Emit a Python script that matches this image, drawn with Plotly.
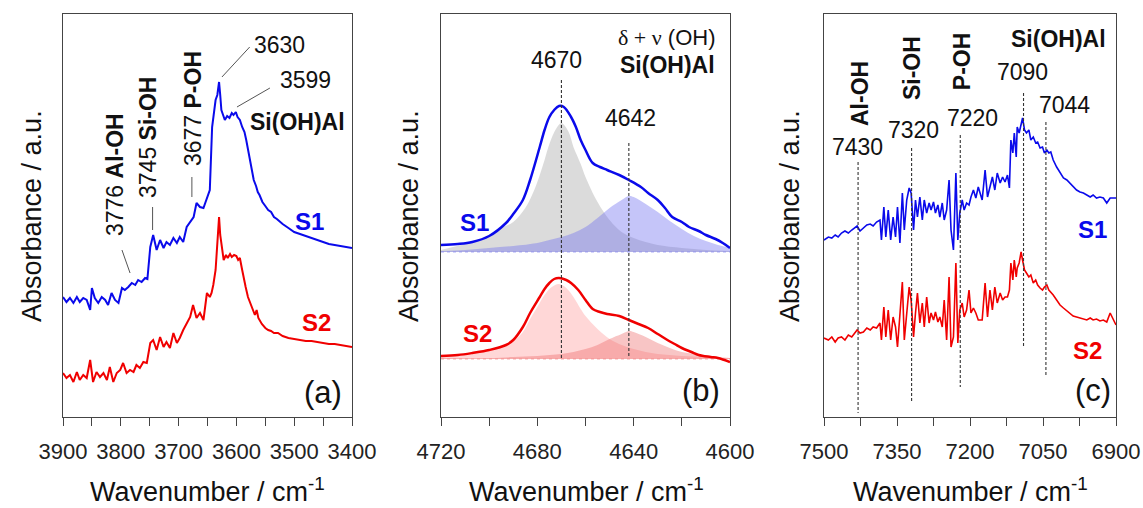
import plotly.graph_objects as go

# ---------------- (a) OH stretching region ----------------
a_wn_s1 = [3900, 3894, 3888, 3882, 3876, 3871, 3865, 3859, 3853, 3850, 3845, 3839, 3833, 3827, 3822,
           3816, 3810, 3804, 3798, 3793, 3787, 3781, 3775, 3770, 3764, 3758, 3754, 3749, 3744, 3738,
           3732, 3726, 3721, 3715, 3709, 3703, 3698, 3692, 3686, 3680, 3674, 3669, 3663, 3657, 3651,
           3646, 3642, 3636, 3633, 3630, 3628, 3626, 3620, 3616, 3612, 3608, 3605, 3601, 3598, 3594,
           3590, 3586, 3583, 3580, 3577, 3573, 3570, 3566, 3563, 3560, 3555, 3550, 3545, 3540, 3535,
           3530, 3525, 3520, 3510, 3500, 3490, 3480, 3470, 3460, 3450, 3440, 3430, 3420, 3410, 3400]
a_s1 = [1.20, 1.15, 1.19, 1.14, 1.20, 1.15, 1.19, 1.17, 1.07, 1.29, 1.19, 1.14, 1.20, 1.17, 1.12,
        1.24, 1.17, 1.14, 1.29, 1.27, 1.30, 1.34, 1.32, 1.37, 1.35, 1.39, 1.38, 1.70, 1.82, 1.67,
        1.77, 1.69, 1.75, 1.72, 1.79, 1.74, 1.80, 1.75, 1.90, 1.95, 2.00, 2.14, 2.10, 2.09, 2.19,
        2.27, 2.90, 3.17, 3.22, 3.35, 3.22, 3.07, 2.97, 3.01, 2.99, 3.04, 3.02, 3.05, 3.00, 2.97,
        2.90, 2.85, 2.77, 2.67, 2.57, 2.47, 2.37, 2.31, 2.25, 2.22, 2.15, 2.11, 2.07, 2.05, 2.00,
        1.98, 1.95, 1.93, 1.89, 1.85, 1.83, 1.81, 1.79, 1.77, 1.75, 1.73, 1.72, 1.71, 1.70, 1.69]

a_wn_s2 = [3900, 3894, 3888, 3882, 3876, 3871, 3865, 3859, 3853, 3848, 3842, 3836, 3830, 3824, 3819,
           3813, 3807, 3801, 3796, 3790, 3784, 3778, 3773, 3767, 3761, 3755, 3749, 3744, 3738, 3732,
           3726, 3721, 3715, 3709, 3703, 3698, 3692, 3686, 3680, 3675, 3669, 3663, 3657, 3651, 3646,
           3643, 3640, 3636, 3633, 3630, 3628, 3625, 3622, 3618, 3615, 3611, 3608, 3604, 3600, 3597,
           3594, 3590, 3587, 3584, 3580, 3576, 3572, 3568, 3565, 3562, 3556, 3550, 3545, 3540, 3535,
           3528, 3520, 3510, 3500, 3490, 3480, 3470, 3460, 3450, 3440, 3430, 3420, 3410, 3400]
a_s2 = [0.44, 0.39, 0.42, 0.35, 0.45, 0.37, 0.42, 0.39, 0.57, 0.35, 0.45, 0.40, 0.44, 0.37, 0.50,
        0.35, 0.44, 0.47, 0.54, 0.44, 0.47, 0.45, 0.52, 0.49, 0.55, 0.54, 0.74, 0.77, 0.67, 0.80,
        0.70, 0.75, 0.69, 0.84, 0.74, 0.79, 0.87, 0.94, 1.00, 1.12, 0.99, 1.04, 0.97, 1.24, 1.20,
        1.24, 1.32, 1.47, 1.77, 2.00, 1.82, 1.67, 1.57, 1.62, 1.59, 1.63, 1.60, 1.62, 1.61, 1.57,
        1.59, 1.47, 1.37, 1.30, 1.20, 1.14, 1.09, 1.02, 1.07, 0.99, 0.93, 0.89, 0.87, 0.86, 0.84,
        0.84, 0.81, 0.79, 0.78, 0.77, 0.76, 0.76, 0.75, 0.74, 0.73, 0.73, 0.72, 0.71, 0.70]

# ---------------- (b) combination band delta + nu(OH) ----------------
b_wn_s1 = [4720, 4713, 4707, 4700, 4693, 4690, 4686, 4683, 4679, 4677, 4675, 4673, 4671, 4669, 4666,
           4664, 4662, 4660, 4657, 4654, 4651, 4646, 4642, 4637, 4634, 4630, 4627, 4624, 4620, 4617,
           4613, 4610, 4606, 4603, 4600]
b_s1 = [1.72, 1.73, 1.75, 1.81, 1.94, 2.03, 2.17, 2.37, 2.70, 2.87, 3.00, 3.07, 3.11, 3.10, 3.00,
        2.90, 2.77, 2.67, 2.54, 2.50, 2.47, 2.42, 2.37, 2.30, 2.24, 2.17, 2.09, 2.00, 1.95, 1.90,
        1.86, 1.82, 1.78, 1.74, 1.69]
b_base_s1 = 1.65
b_fit1_wn_s1 = [4720, 4715, 4710, 4705, 4700, 4695, 4690, 4685, 4682, 4680, 4677, 4675, 4672, 4670,
                4667, 4665, 4662, 4660, 4655, 4650, 4645, 4640, 4635, 4630, 4620, 4610, 4600]
b_fit1_s1 = [0.02, 0.05, 0.08, 0.12, 0.16, 0.24, 0.30, 0.44, 0.58, 0.70, 0.92, 1.08, 1.24, 1.29,
             1.20, 1.05, 0.88, 0.75, 0.50, 0.32, 0.20, 0.14, 0.10, 0.07, 0.04, 0.02, 0.01]
b_fit2_wn_s1 = [4720, 4710, 4700, 4690, 4680, 4675, 4670, 4665, 4660, 4655, 4650, 4645, 4642, 4640,
                4635, 4630, 4625, 4620, 4615, 4610, 4605, 4600]
b_fit2_s1 = [0.01, 0.02, 0.04, 0.06, 0.09, 0.12, 0.15, 0.19, 0.25, 0.34, 0.44, 0.52, 0.56, 0.55,
             0.48, 0.40, 0.31, 0.23, 0.16, 0.11, 0.07, 0.04]

b_wn_s2 = [4720, 4713, 4707, 4700, 4693, 4690, 4686, 4683, 4679, 4677, 4675, 4673, 4671, 4668, 4666,
           4663, 4660, 4657, 4654, 4651, 4646, 4642, 4638, 4634, 4630, 4626, 4623, 4620, 4616, 4613,
           4608, 4605, 4600]
b_s2 = [0.61, 0.62, 0.64, 0.67, 0.72, 0.77, 0.90, 1.04, 1.20, 1.28, 1.34, 1.38, 1.39, 1.37, 1.34,
        1.27, 1.17, 1.08, 1.05, 1.03, 1.01, 0.97, 0.93, 0.89, 0.83, 0.77, 0.73, 0.69, 0.65, 0.62,
        0.60, 0.59, 0.55]
b_base_s2 = 0.58
b_fit1_wn_s2 = [4720, 4710, 4700, 4695, 4690, 4686, 4683, 4680, 4677, 4674, 4671, 4668, 4665, 4662,
                4660, 4655, 4650, 4645, 4640, 4635, 4630, 4620, 4610, 4600]
b_fit1_s2 = [0.03, 0.05, 0.09, 0.13, 0.18, 0.27, 0.40, 0.52, 0.64, 0.72, 0.75, 0.71, 0.62, 0.50,
             0.43, 0.30, 0.20, 0.14, 0.10, 0.07, 0.05, 0.03, 0.02, 0.01]
b_fit2_wn_s2 = [4720, 4700, 4690, 4680, 4670, 4665, 4660, 4655, 4650, 4645, 4642, 4640, 4635, 4630,
                4625, 4620, 4615, 4610, 4600]
b_fit2_s2 = [0.01, 0.01, 0.02, 0.03, 0.05, 0.07, 0.10, 0.14, 0.20, 0.25, 0.28, 0.27, 0.22, 0.16,
             0.11, 0.07, 0.05, 0.03, 0.01]

# ---------------- (c) first overtone 2nu(OH) ----------------
c_wn = [7500, 7491, 7484, 7477, 7471, 7464, 7457, 7450, 7443, 7436, 7432, 7426, 7419, 7412, 7405,
        7399, 7392, 7385, 7382, 7377, 7373, 7368, 7363, 7358, 7353, 7349, 7344, 7339, 7335, 7330,
        7325, 7321, 7316, 7312, 7308, 7303, 7298, 7294, 7289, 7284, 7280, 7275, 7271, 7266, 7262,
        7257, 7253, 7248, 7243, 7239, 7234, 7229, 7225, 7221, 7216, 7212, 7207, 7202, 7198, 7193,
        7188, 7183, 7175, 7169, 7164, 7159, 7154, 7149, 7144, 7138, 7133, 7128, 7123, 7119, 7116,
        7112, 7109, 7105, 7103, 7099, 7095, 7092, 7088, 7084, 7079, 7075, 7070, 7065, 7061, 7056,
        7051, 7047, 7042, 7038, 7034, 7029, 7022, 7015, 7008, 7001, 6995, 6988, 6981, 6974, 6967,
        6960, 6953, 6947, 6940, 6933, 6926, 6919, 6912, 6900]
c_s1 = [1.77, 1.80, 1.79, 1.82, 1.80, 1.84, 1.86, 1.84, 1.87, 1.89, 1.91, 1.86, 1.89, 1.92, 1.93,
        1.91, 1.95, 1.97, 1.77, 2.10, 1.80, 2.07, 1.77, 2.00, 1.80, 2.10, 1.74, 2.24, 1.87, 2.17,
        2.29, 2.24, 1.87, 2.17, 2.00, 2.20, 1.97, 2.17, 2.04, 2.14, 2.07, 2.15, 2.04, 2.12, 2.00,
        2.14, 1.97, 2.07, 2.37, 1.87, 1.67, 2.44, 1.77, 2.04, 2.17, 2.07, 2.14, 2.12, 2.20, 2.27,
        2.19, 2.30, 2.17, 2.47, 2.20, 2.30, 2.40, 2.27, 2.44, 2.34, 2.40, 2.35, 2.42, 2.29, 2.77,
        2.64, 2.84, 2.60, 2.90, 2.84, 2.95, 2.99, 2.87, 2.84, 2.87, 2.77, 2.80, 2.74, 2.75, 2.69,
        2.70, 2.64, 2.67, 2.64, 2.65, 2.57, 2.50, 2.44, 2.39, 2.37, 2.34, 2.30, 2.27, 2.25, 2.24,
        2.22, 2.20, 2.22, 2.19, 2.20, 2.19, 2.14, 2.19, 2.19]
c_s2 = [0.79, 0.77, 0.80, 0.75, 0.79, 0.80, 0.77, 0.82, 0.80, 0.85, 0.87, 0.84, 0.85, 0.89, 0.87,
        0.90, 0.89, 0.94, 0.77, 1.10, 0.80, 1.07, 0.77, 1.00, 0.90, 0.70, 1.07, 1.35, 0.77, 1.00,
        1.30, 1.17, 0.80, 1.04, 1.24, 0.94, 1.14, 0.90, 1.20, 0.94, 1.04, 0.97, 1.05, 0.95, 1.00,
        0.90, 1.17, 0.77, 1.40, 0.70, 0.80, 1.54, 0.74, 1.07, 1.14, 1.00, 1.07, 1.27, 1.04, 1.09,
        1.04, 0.97, 0.97, 1.34, 1.00, 1.27, 1.07, 1.30, 1.14, 1.24, 1.17, 1.20, 1.20, 1.27, 1.54,
        1.37, 1.57, 1.40, 1.49, 1.54, 1.65, 1.57, 1.47, 1.44, 1.40, 1.42, 1.34, 1.37, 1.32, 1.29,
        1.27, 1.30, 1.32, 1.27, 1.25, 1.22, 1.17, 1.12, 1.09, 1.06, 1.03, 1.01, 1.00, 0.99, 0.98,
        0.97, 0.99, 0.97, 0.98, 0.96, 0.97, 0.95, 1.04, 0.92]

# band positions marked in (b) and (c)
b_bands = [4670, 4642]
c_bands = [7430, 7320, 7220, 7090, 7044]

BLUE = "rgb(10,10,235)"
RED = "rgb(240,0,0)"
FONT = "Liberation Sans, Arial, sans-serif"
Y_RANGE = [0, 4.03]

fig = go.Figure()


def line(x, y, color, width, xa, ya, shape="linear", dash="solid"):
    fig.add_trace(go.Scatter(x=x, y=y, mode="lines", xaxis=xa, yaxis=ya, hoverinfo="skip",
                             line=dict(color=color, width=width, shape=shape, dash=dash),
                             showlegend=False))


def component(wn, h, base, fillcolor, xa, ya):
    # flat baseline, then the fitted band filled down to it
    fig.add_trace(go.Scatter(x=[wn[0], wn[-1]], y=[base, base], mode="lines", xaxis=xa, yaxis=ya,
                             line=dict(width=0, color="rgba(0,0,0,0)"), hoverinfo="skip",
                             showlegend=False))
    fig.add_trace(go.Scatter(x=wn, y=[base + v for v in h], mode="lines", xaxis=xa, yaxis=ya,
                             line=dict(width=0, color="rgba(0,0,0,0)", shape="spline"),
                             fill="tonexty", fillcolor=fillcolor, hoverinfo="skip",
                             showlegend=False))


# panel (a)
line(a_wn_s1, a_s1, BLUE, 2, "x", "y")
line(a_wn_s2, a_s2, RED, 2, "x", "y")

# panel (b): fitted components under each spectrum
component(b_fit1_wn_s1, b_fit1_s1, b_base_s1, "rgba(205,205,205,0.72)", "x2", "y2")
component(b_fit2_wn_s1, b_fit2_s1, b_base_s1, "rgba(110,110,240,0.40)", "x2", "y2")
line([4720, 4600], [b_base_s1, b_base_s1], "rgba(120,120,240,0.6)", 1, "x2", "y2", dash="dot")
line(b_wn_s1, b_s1, BLUE, 2.5, "x2", "y2", "spline")
component(b_fit1_wn_s2, b_fit1_s2, b_base_s2, "rgba(255,130,130,0.32)", "x2", "y2")
component(b_fit2_wn_s2, b_fit2_s2, b_base_s2, "rgba(235,90,90,0.35)", "x2", "y2")
line([4720, 4600], [b_base_s2, b_base_s2], "rgba(240,120,120,0.6)", 1, "x2", "y2", dash="dot")
line(b_wn_s2, b_s2, RED, 2.5, "x2", "y2", "spline")

# panel (c)
line(c_wn, c_s1, BLUE, 1.6, "x3", "y3")
line(c_wn, c_s2, RED, 1.6, "x3", "y3")

shapes = []
DASH = dict(color="#333", width=1.1, dash="3px,2px")
b_dash_y = {4670: (3.37, 0.59), 4642: (2.74, 0.59)}
for wn in b_bands:
    y0, y1 = b_dash_y[wn]
    shapes.append(dict(type="line", xref="x2", yref="y2", x0=wn, x1=wn, y0=y0, y1=y1, line=DASH))
c_dash_y = {7430: (2.55, 0.04), 7320: (2.69, 0.15), 7220: (2.82, 0.30),
            7090: (3.24, 0.70), 7044: (2.95, 0.42)}
for wn in c_bands:
    y0, y1 = c_dash_y[wn]
    shapes.append(dict(type="line", xref="x3", yref="y3", x0=wn, x1=wn, y0=y0, y1=y1, line=DASH))

# leader lines in panel (a)
LEAD = dict(color="#555", width=1)
for x0, y0, x1, y1 in [(3577, 3.70, 3625, 3.40), (3542, 3.29, 3599, 3.10),
                       (3798, 1.67, 3784, 1.44), (3745, 2.10, 3745, 1.87),
                       (3677, 2.40, 3677, 2.20)]:
    shapes.append(dict(type="line", xref="x", yref="y", x0=x0, y0=y0, x1=x1, y1=y1, line=LEAD))

ann = []


def text(x, y, s, xa, ya, size=23, color="#111", angle=0, xanchor="center"):
    ann.append(dict(x=x, y=y, xref=xa, yref=ya, text=s, showarrow=False, textangle=angle,
                    xanchor=xanchor, yanchor="middle", font=dict(family=FONT, size=size, color=color)))


# (a) labels
text(3525, 3.72, "3630", "x", "y")
text(3481, 3.37, "3599", "x", "y")
text(3495, 2.95, "<b>Si(OH)Al</b>", "x", "y")
text(3810, 2.42, "3776 <b>Al-OH</b>", "x", "y", angle=-90)
text(3753, 2.80, "3745 <b>Si-OH</b>", "x", "y", angle=-90)
text(3675, 3.08, "3677 <b>P-OH</b>", "x", "y", angle=-90)
text(3473, 1.95, "<b>S1</b>", "x", "y", size=24, color=BLUE)
text(3461, 0.95, "<b>S2</b>", "x", "y", size=24, color=RED)
text(3450, 0.25, "(a)", "x", "y", size=31)

# (b) labels
text(4626, 3.79, '<span style="font-family:Liberation Serif">δ + ν</span> (OH)', "x2", "y2", size=22)
text(4626, 3.52, "<b>Si(OH)Al</b>", "x2", "y2")
text(4672, 3.57, "4670", "x2", "y2")
text(4641.5, 2.99, "4642", "x2", "y2")
text(4706, 1.94, "<b>S1</b>", "x2", "y2", size=24, color=BLUE)
text(4705, 0.84, "<b>S2</b>", "x2", "y2", size=24, color=RED)
text(4612, 0.27, "(b)", "x2", "y2", size=31)

# (c) labels
text(7432, 2.70, "7430", "x3", "y3")
text(7317, 2.87, "7320", "x3", "y3")
text(7194, 2.99, "7220", "x3", "y3")
text(7093, 3.45, "7090", "x3", "y3")
text(7005, 3.12, "7044", "x3", "y3")
text(7019, 3.78, "<b>Si(OH)Al</b>", "x3", "y3")
text(7426, 3.23, "<b>Al-OH</b>", "x3", "y3", angle=-90)
text(7319, 3.49, "<b>Si-OH</b>", "x3", "y3", angle=-90)
text(7216, 3.56, "<b>P-OH</b>", "x3", "y3", angle=-90)
text(6949, 1.87, "<b>S1</b>", "x3", "y3", size=24, color=BLUE)
text(6958, 0.67, "<b>S2</b>", "x3", "y3", size=24, color=RED)
text(6947, 0.27, "(c)", "x3", "y3", size=31)

# axis titles
W, H = 1143, 508
for cx in (32, 409, 790):
    text(cx / W, 1 - 216 / H, "Absorbance / a.u.", "paper", "paper", size=27, angle=-90)
for cx in (207, 586, 970):
    text(cx / W, 1 - 490 / H, "Wavenumber / cm<sup>-1</sup>", "paper", "paper", size=27)

AX = dict(showgrid=False, zeroline=False, showline=True, mirror=True, linecolor="#444",
          linewidth=1.3, ticks="outside", ticklen=8, tickwidth=1.3, tickcolor="#444",
          ticklabelstandoff=6, automargin=False,
          tickfont=dict(family=FONT, size=22, color="#222"))
YAX = dict(showgrid=False, zeroline=False, showline=True, mirror=True, linecolor="#444",
           linewidth=1.3, ticks="", showticklabels=False, range=Y_RANGE, fixedrange=True,
           automargin=False)
ydom = [1 - 417 / H, 1 - 14 / H]

MINOR = dict(ticks="outside", ticklen=8, tickwidth=1.3, tickcolor="#444", showgrid=False)
fig.update_layout(
    width=W, height=H, margin=dict(l=0, r=0, t=0, b=0, autoexpand=False),
    paper_bgcolor="white", plot_bgcolor="white", showlegend=False,
    xaxis=dict(AX, domain=[63 / W, 352 / W], range=[3900, 3400], tick0=3400, dtick=100,
               minor=dict(MINOR, dtick=50), anchor="y"),
    xaxis2=dict(AX, domain=[441 / W, 730 / W], range=[4720, 4600], tick0=4600, dtick=40,
                minor=dict(MINOR, dtick=20), anchor="y2"),
    xaxis3=dict(AX, domain=[824 / W, 1116 / W], range=[7500, 6900], tick0=6900, dtick=150,
                minor=dict(MINOR, dtick=75), anchor="y3"),
    yaxis=dict(YAX, domain=ydom, anchor="x"),
    yaxis2=dict(YAX, domain=ydom, anchor="x2"),
    yaxis3=dict(YAX, domain=ydom, anchor="x3"),
    shapes=shapes, annotations=ann,
)

fig.write_html("out.html")
